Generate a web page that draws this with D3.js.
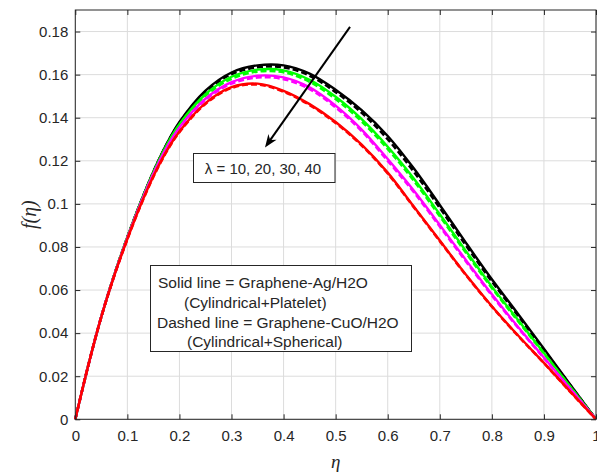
<!DOCTYPE html>
<html><head><meta charset="utf-8">
<script src="https://cdn.jsdelivr.net/npm/d3@7"></script>
<style>body{margin:0;background:#fff} svg{display:block}</style>
</head><body>
<svg id="c" width="597" height="474"></svg>
<script>
// ---- data ----
const eta = [0,0.025,0.05,0.075,0.1,0.125,0.15,0.175,0.2,0.25,0.3,0.35,0.4,0.45,0.5,0.55,0.6,0.65,0.7,0.75,0.8,0.85,0.9,0.95,1];
const lambdas = [10, 20, 30, 40];
const lineColors = ["#000000", "#00ff00", "#ff00ff", "#ff0000"];
// Solid: Graphene-Ag/H2O
const solid10 = [0,0.0251,0.0477,0.0672,0.0845,0.1005,0.1150,0.1276,0.1380,0.1526,0.1610,0.1643,0.1643,0.1605,0.1530,0.1435,0.1315,0.1165,0.0995,0.0820,0.0650,0.0490,0.0328,0.0163,0];
const solid20 = [0,0.0251,0.0477,0.0672,0.0845,0.1003,0.1147,0.1271,0.1370,0.1509,0.1590,0.1623,0.1620,0.1576,0.1497,0.1393,0.1265,0.1118,0.0952,0.0782,0.0616,0.0462,0.0308,0.0154,0];
const solid30 = [0,0.0251,0.0477,0.0670,0.0842,0.0999,0.1140,0.1260,0.1355,0.1488,0.1565,0.1595,0.1587,0.1541,0.1456,0.1345,0.1208,0.1062,0.0902,0.0740,0.0580,0.0430,0.0287,0.0143,0];
const solid40 = [0,0.0251,0.0476,0.0668,0.0837,0.0991,0.1128,0.1244,0.1336,0.1468,0.1542,0.1558,0.1525,0.1463,0.1380,0.1275,0.1145,0.0988,0.0830,0.0672,0.0525,0.0390,0.0262,0.0130,0];
// Dashed: Graphene-CuO/H2O
const dashed10 = [0,0.0251,0.0477,0.0672,0.0845,0.1004,0.1149,0.1274,0.1376,0.1520,0.1602,0.1634,0.1634,0.1595,0.1519,0.1423,0.1300,0.1150,0.0982,0.0808,0.0640,0.0482,0.0322,0.0160,0];
const dashed20 = [0,0.0251,0.0477,0.0671,0.0844,0.1002,0.1145,0.1268,0.1366,0.1502,0.1581,0.1614,0.1611,0.1567,0.1487,0.1383,0.1255,0.1108,0.0943,0.0774,0.0610,0.0457,0.0305,0.0152,0];
const dashed30 = [0,0.0251,0.0477,0.0669,0.0841,0.0998,0.1138,0.1257,0.1351,0.1483,0.1558,0.1587,0.1579,0.1533,0.1448,0.1338,0.1200,0.1055,0.0895,0.0734,0.0575,0.0426,0.0284,0.0142,0];
const dashed40 = [0,0.0251,0.0476,0.0667,0.0836,0.0990,0.1126,0.1241,0.1333,0.1464,0.1538,0.1554,0.1521,0.1459,0.1376,0.1271,0.1141,0.0985,0.0827,0.0670,0.0523,0.0388,0.0261,0.0129,0];
const xTickValues = [0,0.1,0.2,0.3,0.4,0.5,0.6,0.7,0.8,0.9,1];
const xTickLabels = ["0","0.1","0.2","0.3","0.4","0.5","0.6","0.7","0.8","0.9","1"];
const yTickValues = [0,0.02,0.04,0.06,0.08,0.1,0.12,0.14,0.16,0.18];
const yTickLabels = ["0","0.02","0.04","0.06","0.08","0.1","0.12","0.14","0.16","0.18"];
const lambdaText = "\u03bb = 10, 20, 30, 40";
const legendLines = ["Solid line = Graphene-Ag/H2O","(Cylindrical+Platelet)","Dashed line = Graphene-CuO/H2O","(Cylindrical+Spherical)"];
const arrowFrom = [0.5276, 0.1822];
const arrowTo = [0.3643, 0.1262];

// ---- layout ----
const L = 75.3, R = 596, T = 10, B = 419.3;
const x = d3.scaleLinear().domain([0, 1]).range([L, R]);
const y = d3.scaleLinear().domain([0, 0.19]).range([B, T]);
const svg = d3.select("#c");
const axisColor = "#262626";
const font = "'Liberation Sans', Arial, sans-serif";

// grid
const grid = svg.append("g");
grid.selectAll("line.gx").data(xTickValues).join("line")
  .attr("x1", d => x(d)).attr("x2", d => x(d)).attr("y1", T).attr("y2", B)
  .attr("stroke", "#dcdcdc").attr("stroke-width", 1);
grid.selectAll("line.gy").data(yTickValues).join("line")
  .attr("x1", L).attr("x2", R).attr("y1", d => y(d)).attr("y2", d => y(d))
  .attr("stroke", "#dcdcdc").attr("stroke-width", 1);

// curves
const line = d3.line().x((d, i) => x(eta[i])).y(d => y(d)).curve(d3.curveCatmullRom.alpha(0.5));
const solids = [solid10, solid20, solid30, solid40];
const dashes = [dashed10, dashed20, dashed30, dashed40];
const curves = svg.append("g");
lambdas.forEach((lam, k) => {
  curves.append("path").attr("d", line(solids[k])).attr("fill", "none")
    .attr("stroke", lineColors[k]).attr("stroke-width", 2.4);
  curves.append("path").attr("d", line(dashes[k])).attr("fill", "none")
    .attr("stroke", lineColors[k]).attr("stroke-width", 2.6).attr("stroke-dasharray", "6,3");
});

// axes box
svg.append("rect").attr("x", L).attr("y", T).attr("width", R - L).attr("height", B - T)
  .attr("fill", "none").attr("stroke", axisColor).attr("stroke-width", 1);

const xb = svg.append("g").attr("transform", `translate(0,${B})`)
  .call(d3.axisBottom(x).tickValues(xTickValues).tickSize(-5).tickPadding(8).tickFormat((d, i) => xTickLabels[i]));
const xt = svg.append("g").attr("transform", `translate(0,${T})`)
  .call(d3.axisTop(x).tickValues(xTickValues).tickSize(-5).tickFormat(""));
const yl = svg.append("g").attr("transform", `translate(${L},0)`)
  .call(d3.axisLeft(y).tickValues(yTickValues).tickSize(-5).tickPadding(7).tickFormat((d, i) => yTickLabels[i]));
const yr = svg.append("g").attr("transform", `translate(${R},0)`)
  .call(d3.axisRight(y).tickValues(yTickValues).tickSize(-5).tickFormat(""));
[xb, xt, yl, yr].forEach(g => {
  g.select(".domain").remove();
  g.selectAll(".tick line").attr("stroke", axisColor);
  g.selectAll("text").attr("fill", axisColor).style("font-family", font).style("font-size", "15px");
});
xb.selectAll("text").attr("dy", "0.9em");

// axis labels
svg.append("text").attr("x", (L + R) / 2).attr("y", 468).attr("text-anchor", "middle")
  .style("font-family", "'Liberation Serif', 'Times New Roman', serif").style("font-style", "italic")
  .style("font-size", "19px").attr("fill", axisColor).text("\u03b7");
svg.append("text").attr("transform", `translate(36,${(T + B) / 2}) rotate(-90)`).attr("text-anchor", "middle")
  .style("font-family", "'Liberation Serif', 'Times New Roman', serif").style("font-style", "italic")
  .style("font-size", "20px").attr("fill", axisColor).text("f(\u03b7)");

// arrow
const ax1 = x(arrowFrom[0]), ay1 = y(arrowFrom[1]), ax2 = x(arrowTo[0]), ay2 = y(arrowTo[1]);
const ang = Math.atan2(ay2 - ay1, ax2 - ax1);
const hl = 13, hw = 5, notch = 9;
const ux = Math.cos(ang), uy = Math.sin(ang), px = -uy, py = ux;
svg.append("line").attr("x1", ax1).attr("y1", ay1).attr("x2", ax2 - ux * notch).attr("y2", ay2 - uy * notch)
  .attr("stroke", "#000").attr("stroke-width", 2);
svg.append("path").attr("d", `M${ax2},${ay2} L${ax2 - ux*hl + px*hw},${ay2 - uy*hl + py*hw} L${ax2 - ux*notch},${ay2 - uy*notch} L${ax2 - ux*hl - px*hw},${ay2 - uy*hl - py*hw} Z`)
  .attr("fill", "#000");

// lambda box
svg.append("rect").attr("x", 193.5).attr("y", 153.5).attr("width", 141.5).attr("height", 29)
  .attr("fill", "#fff").attr("stroke", "#262626").attr("stroke-width", 1);
svg.append("text").attr("x", 263).attr("y", 174).attr("text-anchor", "middle")
  .style("font-family", font).style("font-size", "15px").attr("fill", "#262626").text(lambdaText);

// legend note box
svg.append("rect").attr("x", 150.5).attr("y", 265.5).attr("width", 261).attr("height", 86)
  .attr("fill", "#fff").attr("stroke", "#262626").attr("stroke-width", 1);
const lx = [158, 184, 157, 187], ly = [288, 308, 328, 347];
legendLines.forEach((t, i) => {
  svg.append("text").attr("x", lx[i]).attr("y", ly[i])
    .style("font-family", font).style("font-size", "15.5px").attr("fill", "#262626").text(t);
});
</script>
</body></html>
